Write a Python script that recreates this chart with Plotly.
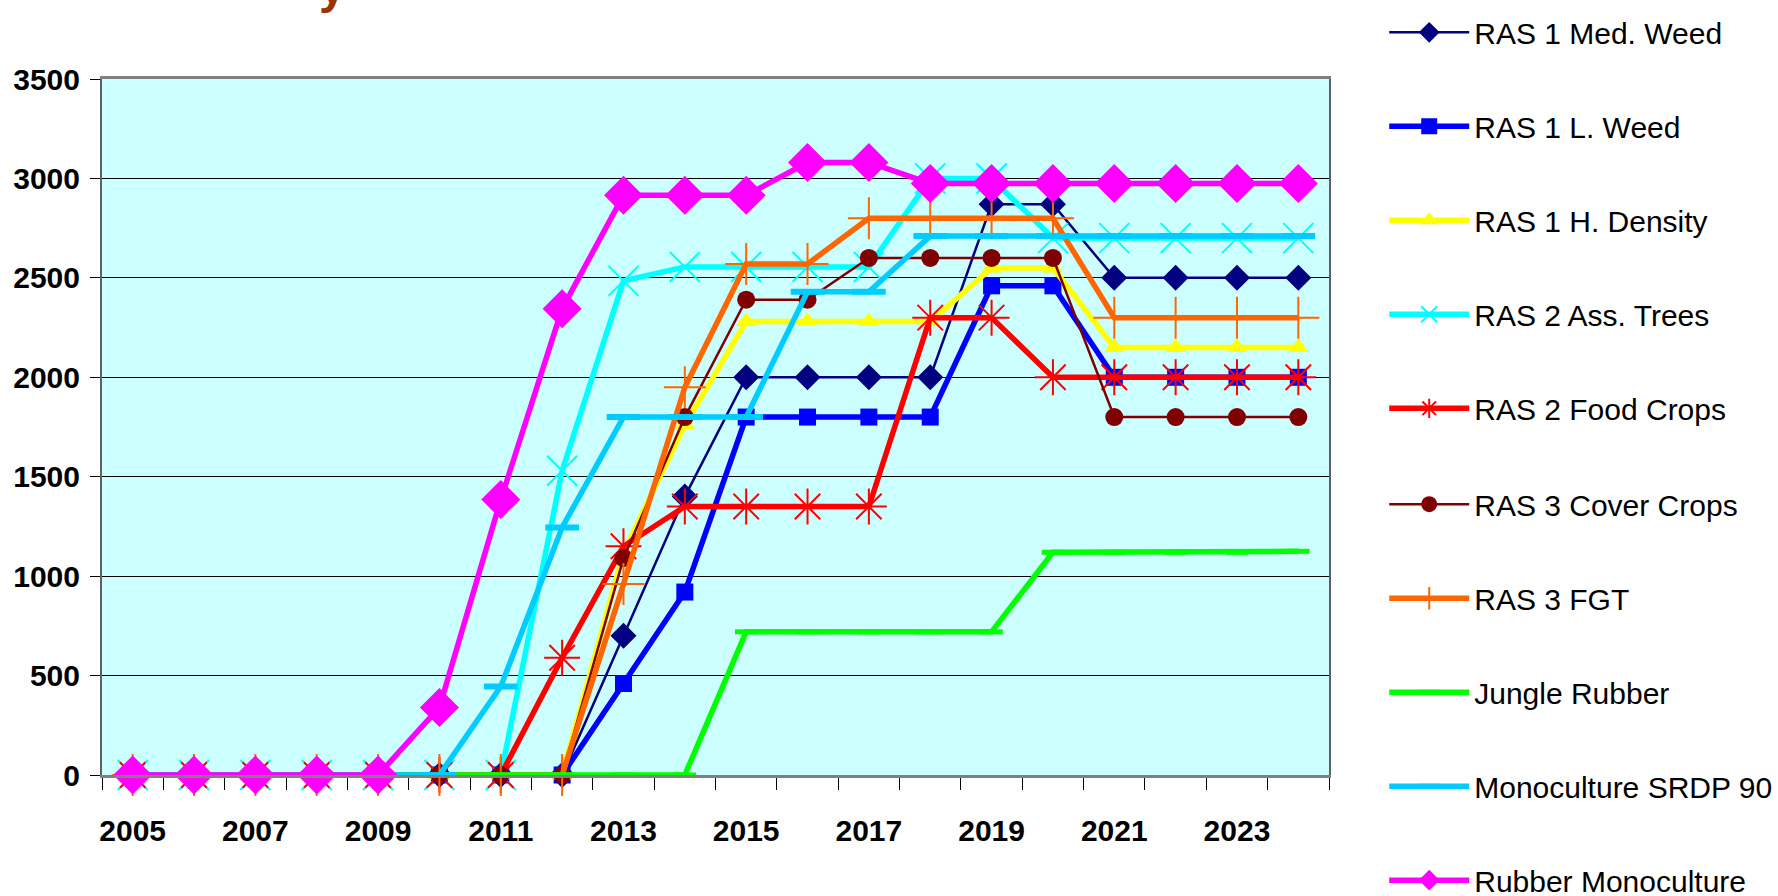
import plotly.graph_objects as go

years = [2005, 2006, 2007, 2008, 2009, 2010, 2011, 2012, 2013, 2014,
         2015, 2016, 2017, 2018, 2019, 2020, 2021, 2022, 2023, 2024]
tick_years = [2005, 2007, 2009, 2011, 2013, 2015, 2017, 2019, 2021, 2023]

med_weed = [0, 0, 0, 0, 0, 0, 0, 0, 700, 1400, 2000, 2000, 2000, 2000, 2870, 2870, 2500, 2500, 2500, 2500]
l_weed = [0, 0, 0, 0, 0, 0, 0, 0, 460, 920, 1800, 1800, 1800, 1800, 2460, 2460, 2000, 2000, 2000, 2000]
h_density = [0, 0, 0, 0, 0, 0, 0, 0, 1120, 1760, 2280, 2280, 2280, 2280, 2550, 2550, 2150, 2150, 2150, 2150]
ass_trees = [0, 0, 0, 0, 0, 0, 0, 1530, 2485, 2555, 2555, 2555, 2555, 3000, 3000, 2700, 2700, 2700, 2700, 2700]
food_crops = [0, 0, 0, 0, 0, 0, 0, 590, 1150, 1350, 1350, 1350, 1350, 2300, 2300, 2000, 2000, 2000, 2000, 2000]
cover_crops = [0, 0, 0, 0, 0, 0, 0, 0, 1090, 1800, 2390, 2390, 2600, 2600, 2600, 2600, 1800, 1800, 1800, 1800]
fgt = [0, 0, 0, 0, 0, 0, 0, 0, 960, 1950, 2570, 2570, 2800, 2800, 2800, 2800, 2300, 2300, 2300, 2300]
jungle = [0, 0, 0, 0, 0, 0, 0, 0, 0, 0, 720, 720, 720, 720, 720, 1120, 1120, 1120, 1120, 1125]
srdp = [0, 0, 0, 0, 0, 0, 445, 1245, 1800, 1800, 1800, 2430, 2430, 2710, 2710, 2710, 2710, 2710, 2710, 2710]
rubber_mono = [0, 0, 0, 0, 0, 340, 1385, 2345, 2915, 2915, 2915, 3080, 3080, 2975, 2975, 2975, 2975, 2975, 2975, 2975]

series = [
    ("RAS 1 Med. Weed", med_weed, "#000080", 2.5, "diamond", 20, 0, "legend"),
    ("RAS 1 L. Weed", l_weed, "#0000FF", 5.5, "square", 17, 0, "legend"),
    ("RAS 1 H. Density", h_density, "#FFFF00", 5.5, "triangle-up", 18, 0, "legend"),
    ("RAS 2 Ass. Trees", ass_trees, "#00FFFF", 5.5, "x-thin-open", 30, 2, "legend"),
    ("RAS 2 Food Crops", food_crops, "#FF0000", 5.5, "asterisk-open", 30, 2, "legend"),
    ("RAS 3 Cover Crops", cover_crops, "#800000", 2.5, "circle", 18, 0, "legend2"),
    ("RAS 3 FGT", fgt, "#FF6600", 5.5, "cross-thin-open", 30, 2, "legend2"),
    ("Jungle Rubber", jungle, "#00FF00", 5.5, "line-ew-open", 16, 5, "legend2"),
    ("Monoculture SRDP 90", srdp, "#00CCFF", 5.5, "line-ew-open", 24, 6, "legend2"),
    ("Rubber Monoculture", rubber_mono, "#FF00FF", 5.5, "diamond", 30, 0, "legend2"),
]

fig = go.Figure()
for i, (name, vals, color, lw, sym, size, mlw, lg) in enumerate(series):
    fig.add_trace(go.Scatter(
        x=years, y=vals, name=name, mode="lines+markers",
        line=dict(color=color, width=lw),
        marker=dict(symbol=sym, size=size, color=color,
                    line=dict(color=color, width=mlw)),
        legend=lg, legendgroup=f"g{i}", cliponaxis=False,
    ))

tick_font = dict(family="Liberation Sans, Arial", size=30, color="black", weight="bold")
leg_font = dict(family="Liberation Sans, Arial", size=30, color="black")

fig.update_layout(
    width=1778, height=896,
    margin=dict(l=102, r=449, t=79, b=121, autoexpand=False),
    paper_bgcolor="white", plot_bgcolor="#CCFFFF",
    showlegend=True,
    legend=dict(x=1.045, xanchor="left", y=0.797, yanchor="middle", font=leg_font,
                itemwidth=80, tracegroupgap=52, bgcolor="rgba(0,0,0,0)"),
    legend2=dict(x=1.045, xanchor="left", y=0.119, yanchor="middle", font=leg_font,
                 itemwidth=80, tracegroupgap=52, bgcolor="rgba(0,0,0,0)"),
    xaxis=dict(range=[2004.5, 2024.5], tickmode="array", tickvals=tick_years,
               ticktext=[str(y) for y in tick_years], ticks="", tickfont=tick_font,
               ticklabelstandoff=27, showgrid=False, zeroline=False,
               showline=True, linecolor="#808080", linewidth=3, mirror=True,
               minor=dict(ticks="outside", tick0=2004.5, dtick=1, ticklen=12,
                          tickcolor="black", tickwidth=1, showgrid=False)),
    yaxis=dict(range=[0, 3500], dtick=500, ticks="outside", ticklen=10, tickcolor="black",
               tickfont=tick_font, ticklabelstandoff=4, showgrid=True, gridcolor="black",
               gridwidth=1, zeroline=False, showline=True, linecolor="#606060",
               linewidth=2, mirror=True),
    annotations=[dict(text="y", xref="paper", yref="paper", x=0.188, y=1.133,
                      xanchor="center", yanchor="middle", showarrow=False,
                      font=dict(family="Liberation Sans, Arial", size=48, color="#993300",
                                weight="bold"))],
)

fig.write_html("out.html")
